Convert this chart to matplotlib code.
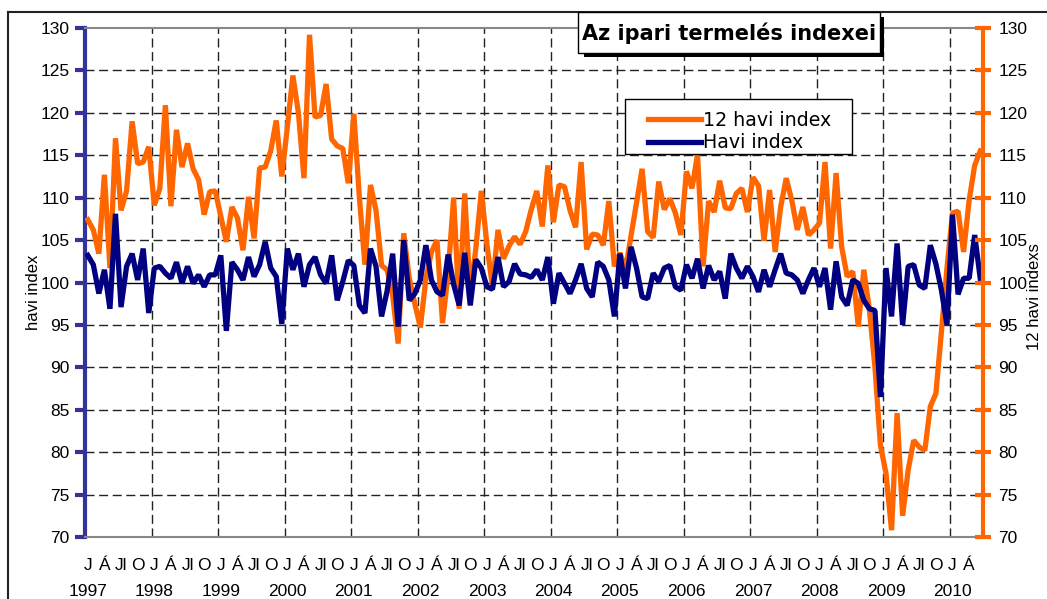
import numpy as np
import matplotlib.pyplot as plt
from matplotlib.patches import Rectangle
from matplotlib.lines import Line2D

plt.rcParams['font.family'] = ['Liberation Sans Narrow', 'Liberation Sans', 'DejaVu Sans']

years = list(range(1997, 2011))
month_abbr = ['J', 'Á', 'Jl', 'O']

# 12 havi index (orange), Jan 1997 - Jun 2010
havi_12 = [
    107.4, 106.2, 103.4, 112.7, 101.7, 117.0, 108.5, 110.8, 119.0, 114.0, 114.2, 116.0,
    109.1, 111.1, 120.9, 109.0, 118.0, 113.6, 116.4, 113.4, 112.1, 108.0, 110.7, 110.8,
    107.8, 104.8, 108.9, 107.6, 103.8, 110.1, 105.2, 113.5, 113.6, 115.5, 119.1, 112.5,
    118.3, 124.4, 120.0, 112.3, 129.2, 119.5, 119.7, 123.4, 116.9, 116.1, 115.8, 111.7,
    119.9, 110.0, 102.1, 111.5, 108.5, 102.0, 101.5, 98.5, 92.8, 105.8, 100.5, 97.5,
    94.7, 100.5, 103.6, 105.0, 95.2, 101.0, 110.0, 96.9, 110.5, 98.5, 104.0, 110.8,
    104.5, 99.5, 106.2, 102.8, 104.3, 105.4, 104.5, 106.0, 108.6, 110.8, 106.6, 113.8,
    107.1, 111.5, 111.3, 108.5, 106.5, 114.2, 103.9, 105.7, 105.6, 104.4, 109.6, 101.9,
    103.5, 101.5, 105.5, 109.4, 113.4, 106.0, 105.3, 111.9, 108.6, 109.9, 108.2, 105.6,
    113.1, 111.1, 115.1, 101.9, 109.6, 108.3, 112.0, 108.8, 108.7, 110.5, 111.1, 108.3,
    112.4, 111.4, 104.9, 110.9, 103.6, 108.9, 112.3, 109.7, 106.2, 108.9, 105.6, 106.2,
    107.0, 114.2, 104.0, 112.9, 104.2, 100.7, 101.3, 94.8, 101.5, 96.8, 90.1, 80.8,
    77.5, 70.8, 84.6, 72.5, 77.9, 81.4, 80.6, 80.2, 85.4, 86.9, 94.2, 101.7,
    108.2, 108.4, 103.6, 109.7, 113.8, 115.5,
]

# Havi index (navy)
havi = [
    103.2, 102.1, 98.7, 101.5, 96.9, 108.1, 97.1, 101.9, 103.4, 100.3, 104.0, 96.4,
    101.7, 101.9, 101.1, 100.5, 102.4, 99.9, 101.9, 99.9, 100.9, 99.5, 100.9, 100.9,
    103.2, 94.3, 102.4, 101.5, 100.3, 103.0, 100.7, 102.1, 104.8, 101.7, 100.7, 95.1,
    104.0, 101.5, 103.4, 99.5, 102.1, 103.0, 100.9, 99.9, 103.2, 97.9, 100.1, 102.6,
    102.0, 97.3, 96.4, 104.0, 101.9, 96.0, 99.0, 103.4, 94.8, 105.0, 97.9, 98.7,
    100.3, 104.4, 100.3, 98.9, 98.5, 103.3, 99.8, 97.3, 103.5, 97.3, 102.7, 101.7,
    99.5, 99.2, 103.0, 99.5, 100.1, 102.2, 101.0, 100.9, 100.6, 101.5, 100.3, 103.0,
    97.5, 101.1, 99.9, 98.7, 100.3, 102.2, 99.3, 98.3, 102.4, 101.9, 100.3, 96.0,
    103.4, 99.3, 104.2, 101.7, 98.3, 98.1, 101.1, 100.1, 101.7, 102.0, 99.5, 99.1,
    102.1, 100.5, 102.8, 99.3, 102.0, 100.3, 101.3, 98.1, 103.4, 101.7, 100.5, 101.9,
    100.7, 98.9, 101.5, 99.5, 101.5, 103.4, 101.1, 100.9, 100.3, 98.7, 100.3, 101.7,
    99.5, 101.7, 96.8, 102.5, 98.3, 97.3, 100.3, 99.9, 97.9, 96.9, 96.7, 86.5,
    101.7, 96.0, 104.6, 95.0, 101.9, 102.1, 99.7, 99.3, 104.4, 102.2, 99.1, 95.0,
    108.0, 98.6, 100.5, 100.5, 105.6, 100.5,
]

ORANGE = '#FF6600'
NAVY = '#000080'
AXBLUE = '#333399'

W, H = 1047, 599
def fx(px):
    return px / W
def fy(py):
    return 1 - py / H

fig = plt.figure(figsize=(W / 100, H / 100), dpi=100)
ax = fig.add_axes([fx(85), fy(537), fx(983) - fx(85), fy(28) - fy(537)])
ax2 = ax.twinx()

n = len(havi)
x = np.arange(n)

# grid
for v in range(75, 130, 5):
    if v != 100:
        ax.axhline(v, color='#222222', lw=1, ls=(0, (6.5, 3.3)), zorder=1)
for k in range(12, n, 12):
    ax.axvline(k - 0.5, color='#222222', lw=1, ls=(0, (6.5, 3.3)), zorder=1)
ax.axhline(100, color='black', lw=1, zorder=1)

l1, = ax.plot(x, havi_12, color=ORANGE, lw=3.8, solid_joinstyle='bevel', zorder=3, label='12 havi index')
l2, = ax.plot(x, havi, color=NAVY, lw=3.8, solid_joinstyle='bevel', zorder=4, label='Havi index')

ax.set_xlim(-0.5, n - 0.5)
for a in (ax, ax2):
    a.set_ylim(70, 130)
    a.set_yticks(range(70, 131, 5))

ax.spines['left'].set(color=AXBLUE, linewidth=3)
ax.spines['top'].set(color='#888888', linewidth=1.5)
ax.spines['bottom'].set(color='#888888', linewidth=1.5)
ax.spines['right'].set_visible(False)
ax.tick_params(axis='y', direction='out', length=7, width=3, color=AXBLUE, pad=4, labelsize=12.5)

for s in ('left', 'top', 'bottom'):
    ax2.spines[s].set_visible(False)
ax2.spines['right'].set(color=ORANGE, linewidth=3)
ax2.tick_params(axis='y', direction='inout', length=12, width=3, color=ORANGE, pad=5, labelsize=12.5)

ticks = np.arange(0, n, 3)
ax.set_xticks(ticks)
ax.set_xticklabels([month_abbr[(t // 3) % 4] for t in ticks])
ax.tick_params(axis='x', length=0, pad=15, labelsize=12.5)
for j, yr in enumerate(years):
    ax.annotate(str(yr), xy=(j * 12, 0), xycoords=('data', 'axes fraction'),
                xytext=(0, -39.5), textcoords='offset points',
                ha='center', va='center', fontsize=12.5, annotation_clip=False)

ax.set_ylabel('havi index', family='Liberation Sans', fontsize=12)
ax.yaxis.set_label_coords((41 - 85) / 898, (537 - 292) / 509)
ax2.set_ylabel('12 havi indexs', family='Liberation Sans', fontsize=12, rotation=90)
ax2.yaxis.set_label_coords((1027 - 85) / 898, (537 - 297) / 509)

# outer chart border
fig.add_artist(Line2D([fx(8), fx(8)], [fy(12), 0], transform=fig.transFigure, color='#222222', lw=1.5))
fig.add_artist(Line2D([fx(8), 1], [fy(12), fy(12)], transform=fig.transFigure, color='#222222', lw=1.5))

# title box with shadow
fig.add_artist(Rectangle((fx(584), fy(57)), fx(884) - fx(584), fy(17) - fy(57),
                         transform=fig.transFigure, facecolor='black', edgecolor='none', zorder=5))
fig.add_artist(Rectangle((fx(578), fy(53)), fx(880) - fx(578), fy(12) - fy(53),
                         transform=fig.transFigure, facecolor='white', edgecolor='black', lw=1, zorder=6))
fig.text(fx(729), fy(33), 'Az ipari termelés indexei', family='DejaVu Sans', fontweight='bold',
         fontsize=15, ha='center', va='center', zorder=7)

# legend box
fig.add_artist(Rectangle((fx(625), fy(154)), fx(852) - fx(625), fy(99) - fy(154),
                         transform=fig.transFigure, facecolor='white', edgecolor='black', lw=1, zorder=5))
leg = fig.legend([l1, l2], ['12 havi index', 'Havi index'], loc='upper left',
                 bbox_to_anchor=(fx(638), fy(101)), frameon=False, borderpad=0,
                 handlelength=2.79, handletextpad=0.12, labelspacing=0.2,
                 prop={'family': 'DejaVu Sans', 'size': 13.7})
leg.set_zorder(6)

fig.savefig('out.png', dpi=100)
